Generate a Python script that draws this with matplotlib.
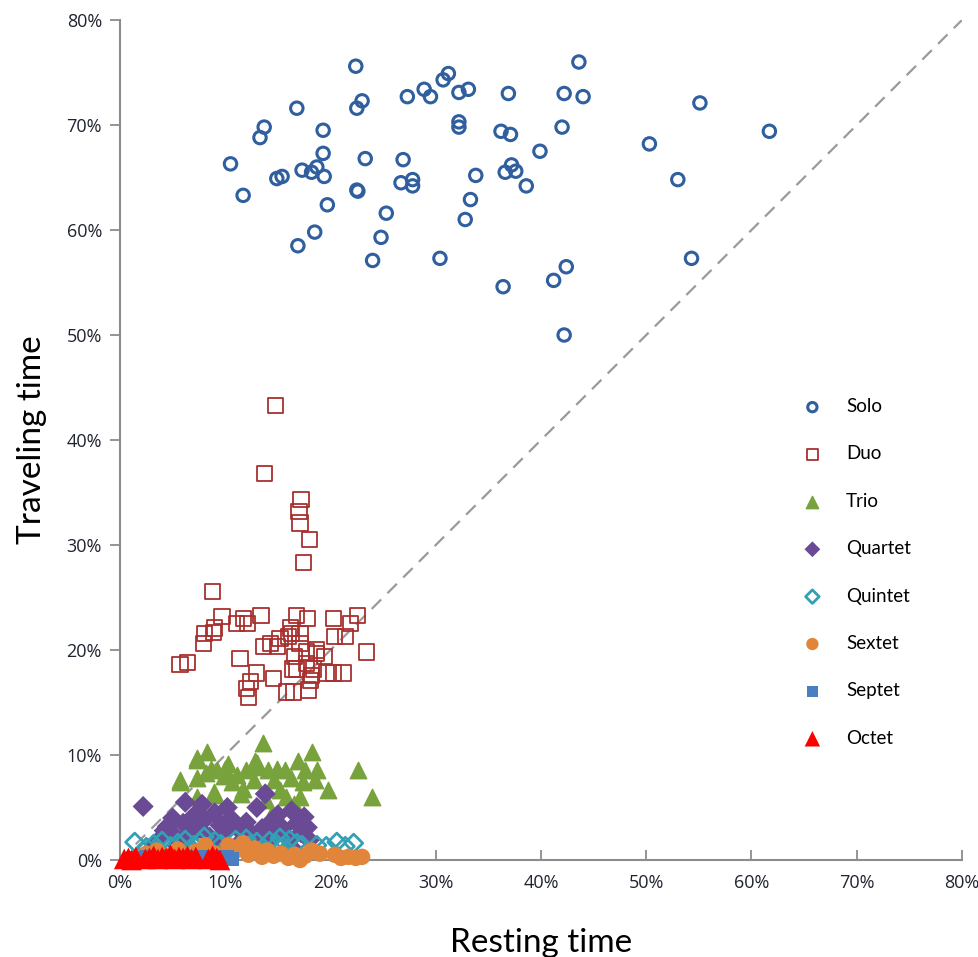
import numpy as np
import matplotlib.pyplot as plt
from matplotlib.ticker import FuncFormatter

# values in percent
solo_x = [10.5, 11.7, 13.7, 13.3, 16.8, 14.9, 15.4, 17.3, 18.2, 18.7, 19.4, 19.3, 19.3, 19.7,
          18.5, 16.9, 22.4, 22.5, 23.0, 23.3, 22.5, 22.6, 25.3, 24.8, 24.0, 26.9, 26.7, 27.8,
          27.8, 27.3, 28.9, 29.5, 30.7, 31.2, 32.2, 33.1, 32.2, 32.2, 33.8, 33.3, 32.8, 30.4,
          43.6, 36.9, 42.2, 44.0, 55.1, 61.7, 50.3, 53.0, 42.0, 36.2, 37.1, 39.9, 37.2, 36.6,
          37.6, 38.6, 54.3, 42.4, 41.2, 36.4, 42.2]
solo_y = [66.3, 63.3, 69.8, 68.8, 71.6, 64.9, 65.1, 65.7, 65.5, 66.0, 65.1, 67.3, 69.5, 62.4,
          59.8, 58.5, 75.6, 71.6, 72.3, 66.8, 63.8, 63.7, 61.6, 59.3, 57.1, 66.7, 64.5, 64.8,
          64.2, 72.7, 73.4, 72.7, 74.3, 74.9, 73.1, 73.4, 70.3, 69.8, 65.2, 62.9, 61.0, 57.3,
          76.0, 73.0, 73.0, 72.7, 72.1, 69.4, 68.2, 64.8, 69.8, 69.4, 69.1, 67.5, 66.2, 65.5,
          65.6, 64.2, 57.3, 56.5, 55.2, 54.6, 50.0]

duo_x = [14.8, 13.7, 17.2, 17.0, 17.1, 18.0, 17.4, 8.8, 9.7, 11.7, 11.1, 12.1, 13.4, 9.0,
         8.0, 7.9, 8.9, 16.8, 17.8, 20.3, 22.6, 21.9, 20.4, 21.4, 23.4, 5.7, 6.4, 11.4, 16.2,
         16.3, 16.0, 17.1, 17.1, 15.2, 14.3, 13.6, 15.0, 16.6, 17.7, 18.7, 19.4, 16.8, 17.7,
         18.4, 18.2, 18.1, 19.6, 20.3, 13.0, 12.4, 12.0, 12.2, 14.6, 15.8, 16.5, 17.9, 16.4,
         18.7, 21.2]
duo_y = [43.3, 36.8, 34.3, 33.2, 32.1, 30.5, 28.3, 25.6, 23.2, 23.0, 22.5, 22.5, 23.3, 22.1,
         21.6, 20.6, 21.7, 23.3, 23.0, 23.0, 23.3, 22.5, 21.3, 21.3, 19.8, 18.6, 18.8, 19.2,
         22.1, 21.6, 21.3, 21.6, 20.6, 21.1, 20.6, 20.3, 20.3, 19.4, 19.8, 19.7, 19.4, 18.2,
         18.7, 18.2, 17.6, 17.1, 17.8, 17.8, 17.8, 17.0, 16.3, 15.5, 17.3, 16.0, 16.0, 16.2,
         18.2, 20.0, 17.8]

trio_x = [13.6, 8.3, 18.2, 7.3, 16.9, 12.8, 22.6, 5.7, 9.2, 10.0, 11.1, 12.0, 14.1, 14.9,
          15.7, 17.6, 18.7, 7.3, 8.2, 10.6, 12.7, 14.6, 16.2, 17.4, 18.5, 19.8, 23.9, 8.9,
          7.3, 11.7, 15.2, 17.1, 13.9, 14.3, 15.8, 13.0, 7.3, 5.7, 8.6, 9.9, 8.9, 10.3, 13.0,
          11.5, 16.5]
trio_y = [11.1, 10.3, 10.3, 9.5, 9.4, 9.4, 8.6, 7.6, 8.6, 8.7, 8.1, 8.6, 8.6, 8.7,
          8.6, 8.6, 8.6, 7.8, 8.3, 7.4, 7.6, 7.6, 7.8, 7.4, 7.6, 6.7, 6.0, 6.2,
          6.0, 6.8, 6.7, 6.0, 5.7, 4.3, 6.0, 8.9, 9.7, 7.4, 8.7, 8.0, 6.5, 9.1, 9.2,
          6.3, 5.3]

quartet_x = [2.2, 6.2, 13.8, 5.0, 4.5, 3.8, 6.0, 6.5, 7.0, 7.5, 8.0, 8.5, 9.0, 9.5, 10.0,
             10.5, 11.0, 11.5, 12.0, 12.5, 13.0, 13.5, 14.0, 15.0, 15.5, 16.0, 16.3, 16.8,
             17.2, 17.5, 18.0, 3.0, 5.5, 8.8, 12.8, 16.5, 7.8, 10.2, 14.5, 4.2, 5.2, 9.3,
             11.8, 14.8, 17.8, 6.8, 3.4, 13.2]
quartet_y = [5.1, 5.5, 6.3, 4.0, 3.2, 2.0, 3.5, 2.5, 4.2, 3.0, 3.8, 2.2, 4.5, 3.3, 2.8,
             4.0, 3.2, 1.8, 3.6, 2.5, 5.0, 3.0, 1.8, 4.3, 3.0, 2.0, 4.7, 3.5,
             2.6, 4.1, 1.9, 1.0, 1.3, 1.2, 1.5, 1.0, 5.3, 5.0, 3.8, 2.8, 2.3, 2.0,
             2.6, 2.4, 3.1, 3.0, 1.6, 2.2]

quintet_x = [1.4, 2.5, 3.2, 4.0, 4.8, 5.5, 6.2, 7.0, 7.6, 8.3, 9.0, 9.6, 10.3, 11.0, 11.6,
             12.3, 13.0, 13.6, 14.2, 14.9, 15.5, 16.1, 16.8, 17.3, 18.7, 19.6, 20.6, 21.4,
             22.2, 3.6, 6.8, 10.8, 15.2, 12.0, 8.0]
quintet_y = [1.7, 1.2, 1.5, 1.8, 1.3, 1.6, 1.9, 1.4, 1.7, 1.2, 1.8, 1.5, 1.3, 1.9, 1.6,
             1.4, 1.7, 1.2, 1.8, 1.5, 1.3, 1.9, 1.6, 1.4, 1.4, 1.3, 1.7, 1.3,
             1.6, 1.0, 1.1, 1.0, 2.1, 2.0, 2.2]

sextet_x = [2.5, 3.5, 4.5, 5.5, 6.5, 7.2, 8.1, 9.0, 10.3, 11.0, 11.7, 12.2, 12.8, 13.5, 14.0,
            14.6, 15.3, 16.0, 16.6, 17.1, 17.6, 18.2, 20.4, 21.0, 21.7, 22.4, 23.0, 19.0,
            5.0, 3.0]
sextet_y = [0.6, 0.9, 0.4, 1.0, 0.5, 0.8, 1.4, 0.6, 1.4, 0.9, 1.6, 0.5, 1.1, 0.3, 0.9,
            0.4, 0.6, 0.2, 0.5, 0.0, 0.4, 0.9, 0.5, 0.2, 0.3, 0.2, 0.3, 0.6,
            0.2, 0.3]

septet_x = [1.2, 2.5, 3.8, 4.6, 5.5, 6.3, 7.1, 7.8, 8.4, 9.0, 9.6, 10.2, 10.6]
septet_y = [0.2, 0.3, 0.1, 0.4, 0.2, 0.3, 0.1, 0.3, 0.2, 0.3, 0.2, 0.3, 0.1]

octet_x = [0.4, 0.8, 1.1, 1.5, 2.4, 2.8, 3.2, 3.6, 4.0, 4.4, 4.8, 5.2, 5.6, 6.0, 6.4, 6.8,
           7.2, 8.4, 8.8, 9.2, 9.5]
octet_y = [0.1, 0.2, 0.0, 0.3, 0.1, 0.2, 0.4, 0.1, 0.3, 0.2, 0.5, 0.1, 0.3, 0.2, 0.4, 0.1,
           0.3, 0.1, 0.4, 0.2, 0.0]

plt.rcParams['font.family'] = ['Lato', 'DejaVu Sans']

fig = plt.figure(figsize=(9.79, 9.57), dpi=100)
ax = fig.add_axes([120 / 979, 1 - 860 / 957, 842 / 979, 840 / 957])

ax.plot([0, 80], [0, 80], ls=(0, (6, 4)), color='#9a9a9a', lw=1.6, zorder=1)

ax.scatter(solo_x, solo_y, s=80, facecolors='none', edgecolors='#2f5f9f', linewidths=2.2,
           label='Solo', zorder=3)
ax.scatter(duo_x, duo_y, s=120, marker='s', facecolors='none', edgecolors='#a8302e',
           linewidths=1.3, label='Duo', zorder=3)
ax.scatter(trio_x, trio_y, s=140, marker='^', color='#78a23c', label='Trio', zorder=3)
ax.scatter(quartet_x, quartet_y, s=115, marker='D', color='#6a4a94', edgecolors='none',
           label='Quartet', zorder=4)
ax.scatter(quintet_x, quintet_y, s=85, marker='D', facecolors='none', edgecolors='#33a0b5',
           linewidths=2.0, label='Quintet', zorder=5)
ax.scatter(sextet_x, sextet_y, s=140, marker='o', color='#e0853a', edgecolors='none',
           label='Sextet', zorder=6, clip_on=False)
ax.scatter(septet_x, septet_y, s=100, marker='s', color='#4a7ec2', edgecolors='none',
           label='Septet', zorder=7, clip_on=False)
ax.scatter(octet_x, octet_y, s=220, marker='^', color='#ff0000', edgecolors='none',
           label='Octet', zorder=8, clip_on=False)

ax.set_xlim(0, 80)
ax.set_ylim(0, 80)
ticks = np.arange(0, 81, 10)
ax.set_xticks(ticks)
ax.set_yticks(ticks)
pct = FuncFormatter(lambda v, p: '%d%%' % v)
ax.xaxis.set_major_formatter(pct)
ax.yaxis.set_major_formatter(pct)
for lab in ax.get_xticklabels() + ax.get_yticklabels():
    lab.set_family(['Open Sans', 'DejaVu Sans'])

for side in ['top', 'right']:
    ax.spines[side].set_visible(False)
for side in ['left', 'bottom']:
    ax.spines[side].set_color('#8c8c8c')
    ax.spines[side].set_linewidth(1.5)
ax.tick_params(axis='y', direction='out', length=7, width=1.3, color='#8c8c8c',
               labelsize=13, labelcolor='#1f2430', pad=6)
ax.tick_params(axis='x', direction='in', length=7, width=1.3, color='#8c8c8c',
               labelsize=13, labelcolor='#1f2430', pad=10)

ax.set_xlabel('Resting time', fontsize=24, labelpad=26)
ax.set_ylabel('Traveling time', fontsize=24, labelpad=14)

leg = ax.legend(loc='upper left', bbox_to_anchor=(0.78, 0.57), frameon=False,
                fontsize=13.5, labelspacing=1.62, handletextpad=0.8, scatterpoints=1,
                markerscale=0.75)

fig.savefig('out.png', dpi=100)
